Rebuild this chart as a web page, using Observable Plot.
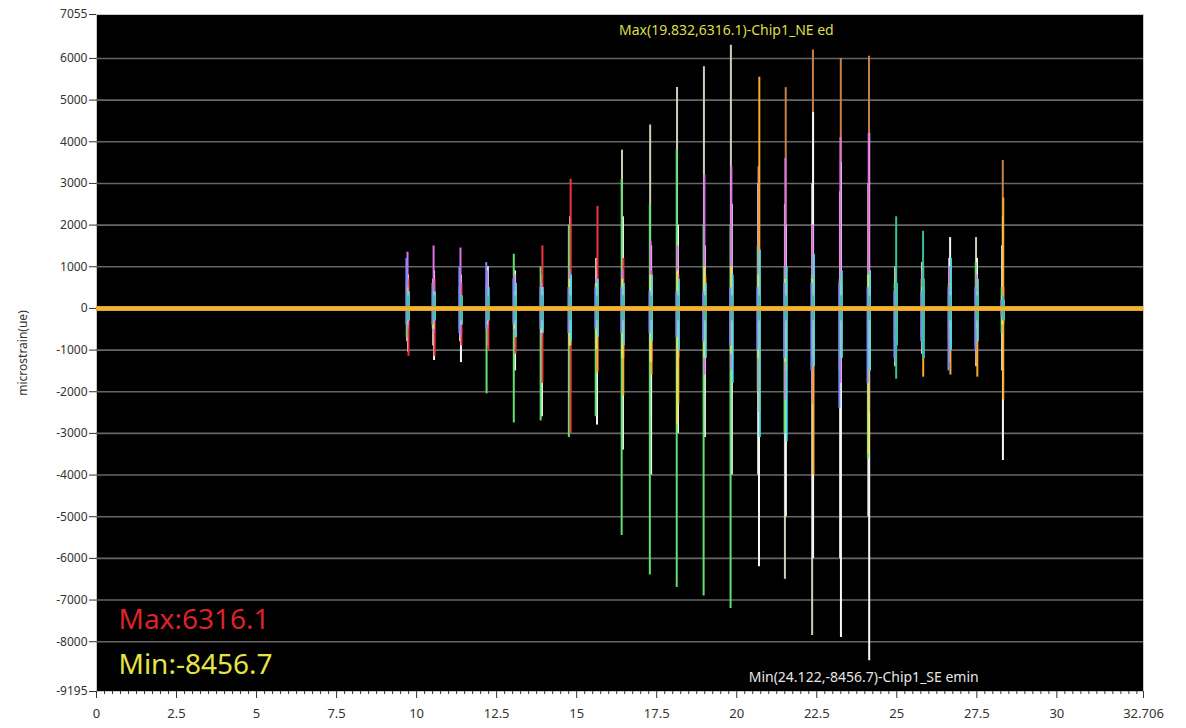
<!DOCTYPE html>
<html>
<head>
<meta charset="utf-8">
<script src="https://cdn.jsdelivr.net/npm/d3@7"></script>
<script src="https://cdn.jsdelivr.net/npm/@observablehq/plot@0.6"></script>
<style>
  html, body { margin: 0; padding: 0; background: #ffffff; }
  #chart { width: 1186px; height: 728px; }
  svg { font-family: "Segoe UI", "Noto Sans", "Open Sans", sans-serif; }
</style>
</head>
<body>
<div id="chart"></div>
<script>
// ---- data ----
const eventTimes = [9.716, 10.53, 11.37, 12.21, 13.06, 13.90, 14.78, 15.62, 16.43, 17.31, 18.15, 18.99,
  19.832, 20.68, 21.52, 22.37, 23.24, 24.122, 24.96, 25.80, 26.65, 27.49, 28.30];

// channel ids (not CSS colour names, so the colour scale maps them)
const channels = ["ch01", "ch02", "ch03", "ch04", "ch05", "ch06", "ch07", "ch08", "ch09", "ch10", "ch11"];
const channelColors = ["#c8804a", "#cfcdb6", "#f6f6f6", "#62e06c", "#f0343c", "#dc70e4", "#f5ab2c", "#e4e456", "#50dcea", "#7c8cf6", "#38c0a0"];
const channelLag = [0.01, -0.015, 0.015, -0.025, 0.03, 0.0, 0.025, -0.005, 0.04, -0.035, 0.02];

// ch01 brown
const maxBrown   = [300, 300, 300, 300, 300, 300, 300, 300, 300, 300, 300, 300, 400, 400, 5300, 6200, 6000, 6050, 300, 300, 300, 300, 3550];
const minBrown   = [-300, -300, -300, -300, -300, -300, -300, -300, -300, -300, -300, -300, -300, -300, -400, -400, -400, -400, -300, -300, -300, -300, -300];
// ch02 grey (Chip1_NE ed)
const maxGrey    = [600, 700, 600, 500, 600, 600, 1200, 1200, 3800, 4400, 5300, 5800, 6316.1, 3000, 2500, 3000, 2800, 3000, 1000, 1100, 1200, 1700, 1500];
const minGrey    = [-800, -900, -800, -600, -800, -1000, -1200, -1200, -2000, -2500, -2500, -2500, -3000, -4000, -6500, -7850, -6000, -5000, -1400, -1100, -1300, -1400, -1500];
// ch03 white (Chip1_SE emin)
const maxWhite   = [800, 900, 800, 1000, 900, 800, 2200, 900, 2200, 1500, 2000, 1500, 2500, 2500, 2000, 4700, 3500, 4200, 800, 900, 1700, 1200, 2200];
const minWhite   = [-1050, -1250, -1300, -900, -1500, -2600, -2000, -2800, -3400, -4000, -3000, -3100, -4000, -6200, -5000, -6000, -7900, -8456.7, -1000, -900, -1000, -1000, -3650];
// ch04 green
const maxGreen   = [600, 400, 500, 600, 1300, 1000, 2000, 600, 3100, 2500, 3800, 2000, 2000, 1500, 1000, 800, 700, 800, 600, 700, 600, 1100, 500];
const minGreen   = [-700, -500, -500, -2050, -2750, -2700, -3100, -2600, -5450, -6400, -6700, -6900, -7200, -2000, -3000, -1500, -1500, -3600, -800, -700, -800, -900, -600];
// ch05 red
const maxRed     = [700, 700, 600, 300, 500, 1500, 3100, 2450, 1200, 900, 800, 700, 600, 800, 600, 900, 500, 700, 400, 500, 400, 400, 500];
const minRed     = [-1150, -1150, -900, -1000, -1100, -1800, -3000, -1500, -1200, -1300, -1200, -1000, -1300, -1200, -1000, -900, -800, -700, -500, -500, -500, -500, -400];
// ch06 magenta
const maxMagenta = [1350, 1500, 1450, 900, 800, 600, 900, 700, 900, 1600, 1500, 3200, 3400, 3400, 3600, 2000, 4100, 4200, 500, 900, 1000, 800, 300];
const minMagenta = [-500, -600, -700, -500, -600, -700, -900, -900, -1000, -1300, -1500, -1600, -1500, -2000, -2200, -2300, -1800, -2500, -1300, -1000, -1300, -1300, -300];
// ch07 orange
const maxOrange  = [300, 300, 300, 300, 400, 400, 500, 500, 500, 500, 600, 800, 700, 5550, 700, 800, 700, 900, 500, 1000, 600, 700, 2650];
const minOrange  = [-300, -300, -300, -300, -400, -500, -900, -1550, -2100, -1600, -2300, -1200, -1000, -2500, -1500, -4000, -1200, -1000, -800, -1650, -1600, -1650, -2200];
// ch08 yellow
const maxYellow  = [500, 400, 300, 300, 400, 500, 700, 600, 700, 800, 900, 1000, 1000, 800, 700, 700, 600, 800, 400, 500, 400, 400, 300];
const minYellow  = [-400, -500, -400, -400, -500, -600, -900, -1000, -1200, -1300, -2800, -1200, -1100, -1200, -1300, -1200, -1200, -3500, -500, -500, -500, -500, -400];
// ch09 cyan
const maxCyan    = [400, 400, 300, 500, 600, 500, 800, 700, 600, 800, 700, 600, 800, 1400, 1000, 1300, 900, 900, 600, 700, 1200, 700, 200];
const minCyan    = [-300, -300, -400, -300, -700, -600, -800, -700, -900, -800, -1000, -1200, -1800, -3100, -3200, -1400, -1200, -1500, -900, -1200, -1000, -800, -300];
// ch10 blue
const maxBlue    = [1200, 600, 1000, 1100, 700, 500, 500, 500, 500, 400, 400, 400, 500, 500, 600, 600, 600, 500, 400, 400, 500, 500, 200];
const minBlue    = [-400, -400, -600, -500, -400, -500, -600, -500, -600, -600, -700, -800, -900, -1000, -1200, -1500, -2400, -1800, -1200, -800, -1500, -1000, -200];
// ch11 teal
const maxTeal    = [300, 300, 300, 300, 300, 300, 300, 300, 300, 300, 300, 300, 300, 300, 300, 300, 300, 300, 2200, 1850, 300, 300, 300];
const minTeal    = [-300, -300, -300, -300, -300, -300, -300, -300, -300, -300, -300, -300, -300, -300, -300, -300, -300, -300, -1700, -1200, -300, -300, -300];

const xTicks = [0, 2.5, 5, 7.5, 10, 12.5, 15, 17.5, 20, 22.5, 25, 27.5, 30, 32.706];
const yTicks = [7055, 6000, 5000, 4000, 3000, 2000, 1000, 0, -1000, -2000, -3000, -4000, -5000, -6000, -7000, -8000, -9195];
const gridValues = [6000, 5000, 4000, 3000, 2000, 1000, 0, -1000, -2000, -3000, -4000, -5000, -6000, -7000, -8000];
const xDomain = [0, 32.706];
const yDomain = [-9195, 7055];

const maxPoint = {t: 19.832, v: 6316.1, label: "Max(19.832,6316.1)-Chip1_NE ed"};
const minPoint = {t: 24.122, v: -8456.7, label: "Min(24.122,-8456.7)-Chip1_SE emin"};
const summaryMax = "Max:6316.1";
const summaryMin = "Min:-8456.7";

// ---- build table ----
const maxArrays = [maxBrown, maxGrey, maxWhite, maxGreen, maxRed, maxMagenta, maxOrange, maxYellow, maxCyan, maxBlue, maxTeal];
const minArrays = [minBrown, minGrey, minWhite, minGreen, minRed, minMagenta, minOrange, minYellow, minCyan, minBlue, minTeal];
const spikes = [];
channels.forEach((ch, c) => {
  eventTimes.forEach((t, i) => {
    spikes.push({ch, t: t + channelLag[c], lo: minArrays[c][i], hi: maxArrays[c][i]});
  });
});
const minorTicks = d3.range(0, 32.706, 0.25).filter(v => !xTicks.includes(v));

const chart = Plot.plot({
  width: 1186,
  height: 728,
  marginLeft: 96,
  marginRight: 43,
  marginTop: 14,
  marginBottom: 37,
  style: {background: "#ffffff", color: "#333333", fontSize: "12px", fontFamily: "'Segoe UI', 'Noto Sans', sans-serif"},
  x: {domain: xDomain},
  y: {domain: yDomain},
  color: {type: "ordinal", domain: channels, range: channelColors},
  marks: [
    Plot.frame({fill: "#000000", stroke: "#c8c8c8"}),
    Plot.ruleY(gridValues, {stroke: "#666666", strokeWidth: 1.6}),
    Plot.ruleX(spikes, {x: "t", y1: "lo", y2: "hi", stroke: "ch", strokeWidth: 2}),
    Plot.ruleY([0], {stroke: "#eea224", strokeWidth: 5}),
    Plot.ruleY([0], {stroke: "#e9bc3c", strokeWidth: 2}),
    Plot.axisY(yTicks, {tickSize: 7, tickPadding: 2, tickFormat: d => String(d), fontSize: 12,
      label: "microstrain(ue)", labelAnchor: "center", labelArrow: "none", labelOffset: 78}),
    Plot.axisX(minorTicks, {tickSize: 3, tickFormat: () => "", label: null}),
    Plot.axisX(xTicks, {tickSize: 7, tickPadding: 10, tickFormat: d => String(d), fontSize: 13, label: null}),
    Plot.text([maxPoint], {x: "t", y: "v", text: "label", dx: -5, dy: -15, fill: "#dede4a", fontSize: 14}),
    Plot.text([minPoint], {x: "t", y: "v", text: "label", dx: -5, dy: 17, fill: "#e6e6e6", fontSize: 14}),
    Plot.text([summaryMax], {frameAnchor: "bottom-left", text: d => d, dx: 22, dy: -71, fill: "#dd2229", fontSize: 28, textAnchor: "start", lineAnchor: "middle"}),
    Plot.text([summaryMin], {frameAnchor: "bottom-left", text: d => d, dx: 22, dy: -26, fill: "#e4e444", fontSize: 28, textAnchor: "start", lineAnchor: "middle"})
  ]
});
document.getElementById("chart").appendChild(chart);
</script>
</body>
</html>
